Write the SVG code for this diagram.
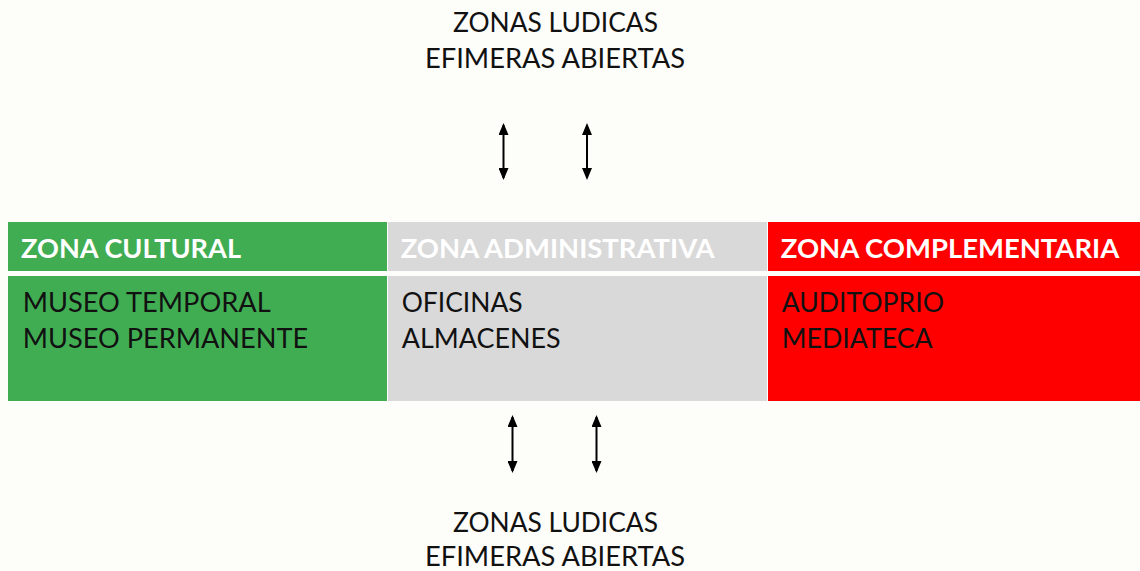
<svg xmlns="http://www.w3.org/2000/svg" width="1140" height="571" viewBox="0 0 1140 571">
<style>
.t{font-family:Lato,"Open Sans","Liberation Sans",sans-serif;font-size:26px;fill:#111}
.h{font-family:Lato,"Open Sans","Liberation Sans",sans-serif;font-size:26px;font-weight:bold;fill:#fff}
.c{stroke:#000;stroke-width:2;fill:none;marker-start:url(#ah);marker-end:url(#ah)}
</style>
<defs>
<marker id="ah" viewBox="0 0 12 10" refX="10" refY="5" markerWidth="12" markerHeight="10" markerUnits="userSpaceOnUse" orient="auto-start-reverse">
<path d="M0,0 L12,5 L0,10 Z" fill="#000"/>
</marker>
</defs>
<rect width="1140" height="571" fill="#fdfdf9"/>
<g id="top-label">
<text class="t" x="453" y="32" textLength="205" lengthAdjust="spacingAndGlyphs">ZONAS LUDICAS</text>
<text class="t" x="425" y="67.5" textLength="260" lengthAdjust="spacingAndGlyphs">EFIMERAS ABIERTAS</text>
</g>
<g id="zona-cultural">
<rect x="8" y="222" width="379" height="49" fill="#41ad53"/>
<rect x="8" y="276" width="379" height="125" fill="#41ad53"/>
<text class="h" x="21" y="258" textLength="220" lengthAdjust="spacingAndGlyphs">ZONA CULTURAL</text>
<text class="t" x="22.7" y="311.5" textLength="248" lengthAdjust="spacingAndGlyphs">MUSEO TEMPORAL</text>
<text class="t" x="22.7" y="348" textLength="285.6" lengthAdjust="spacingAndGlyphs">MUSEO PERMANENTE</text>
</g>
<g id="zona-administrativa">
<rect x="388" y="222" width="379" height="49" fill="#d9d9d9"/>
<rect x="388" y="276" width="379" height="125" fill="#d9d9d9"/>
<text class="h" x="400.7" y="258" textLength="314" lengthAdjust="spacingAndGlyphs">ZONA ADMINISTRATIVA</text>
<text class="t" x="401.7" y="311.5" textLength="121" lengthAdjust="spacingAndGlyphs">OFICINAS</text>
<text class="t" x="401.7" y="348" textLength="159" lengthAdjust="spacingAndGlyphs">ALMACENES</text>
</g>
<g id="zona-complementaria">
<rect x="768" y="222" width="372" height="49" fill="#ff0000"/>
<rect x="768" y="276" width="372" height="125" fill="#ff0000"/>
<text class="h" x="780.7" y="258" textLength="338.6" lengthAdjust="spacingAndGlyphs">ZONA COMPLEMENTARIA</text>
<text class="t" x="781.7" y="311.5" textLength="162.3" lengthAdjust="spacingAndGlyphs">AUDITOPRIO</text>
<text class="t" x="781.7" y="348" textLength="151" lengthAdjust="spacingAndGlyphs">MEDIATECA</text>
</g>
<g id="bottom-label">
<text class="t" x="453" y="531.5" textLength="205" lengthAdjust="spacingAndGlyphs">ZONAS LUDICAS</text>
<text class="t" x="425" y="566" textLength="260" lengthAdjust="spacingAndGlyphs">EFIMERAS ABIERTAS</text>
</g>
<g id="connectors">
<line class="c" x1="503.5" y1="125" x2="503.5" y2="178"/>
<line class="c" x1="587" y1="125" x2="587" y2="178"/>
<line class="c" x1="512.5" y1="417" x2="512.5" y2="471"/>
<line class="c" x1="596.5" y1="417" x2="596.5" y2="471"/>
</g>
</svg>
